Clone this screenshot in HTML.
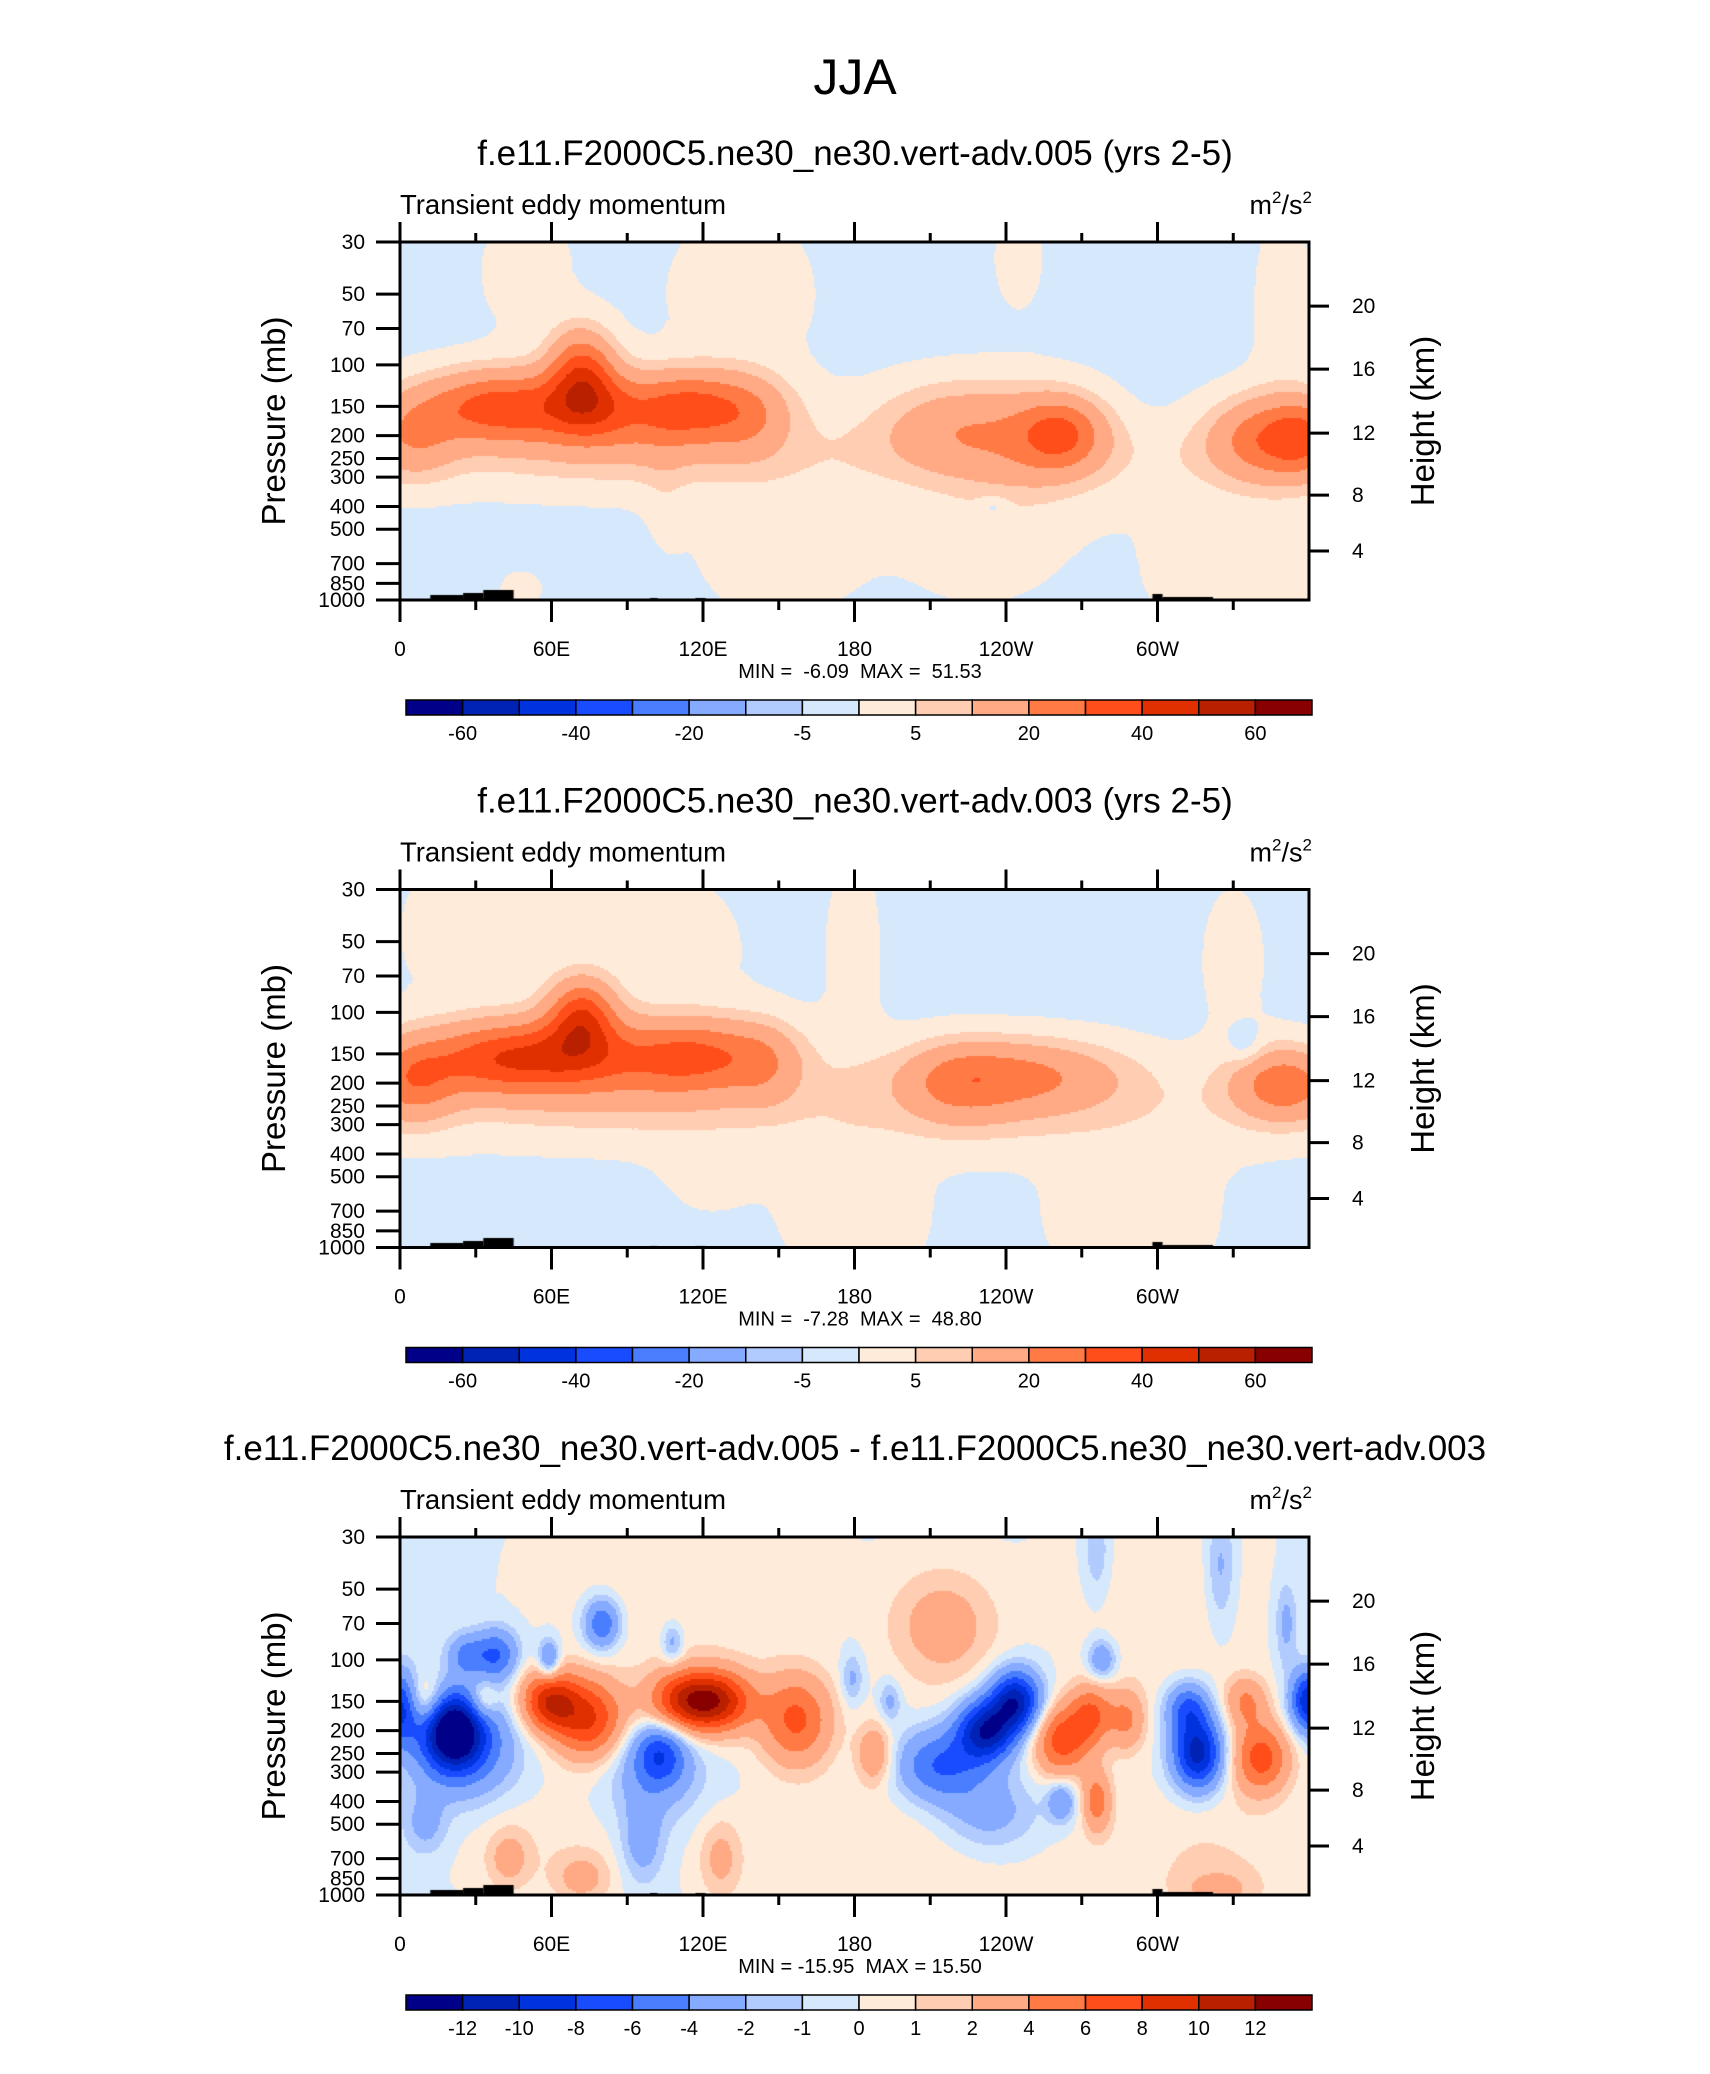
<!DOCTYPE html>
<html><head><meta charset="utf-8"><style>
html,body{margin:0;padding:0;background:#fff;}
#wrap{position:relative;width:1710px;height:2074px;overflow:hidden;font-family:"Liberation Sans",sans-serif;}
canvas{position:absolute;}
svg{position:absolute;left:0;top:0;}
text{white-space:pre;}
</style></head><body>
<div id="wrap">
<canvas id="c0" width="909" height="358" style="left:400px;top:242px"></canvas>
<canvas id="c1" width="909" height="358" style="left:400px;top:889.5px"></canvas>
<canvas id="c2" width="909" height="358" style="left:400px;top:1537px"></canvas>
<svg id="ov" width="1710" height="2074"></svg>
</div>
<script>
// ---- data ----
const lonLabels = ["0","60E","120E","180","120W","60W"];
const pressTicks = [30,50,70,100,150,200,250,300,400,500,700,850,1000];
const heightTicks = [4,8,12,16,20];
const titles = ["f.e11.F2000C5.ne30_ne30.vert-adv.005 (yrs 2-5)","f.e11.F2000C5.ne30_ne30.vert-adv.003 (yrs 2-5)","f.e11.F2000C5.ne30_ne30.vert-adv.005 - f.e11.F2000C5.ne30_ne30.vert-adv.003"];
const minMax = ["MIN =  -6.09  MAX =  51.53","MIN =  -7.28  MAX =  48.80","MIN = -15.95  MAX = 15.50"];
const levelsFull = [-60,-50,-40,-30,-20,-10,-5,0,5,10,20,30,40,50,60];
const levelsDiff = [-12,-10,-8,-6,-4,-2,-1,0,1,2,4,6,8,10,12];
const labelsFull = ["-60","","-40","","-20","","-5","","5","","20","","40","","60"];
const labelsDiff = ["-12","-10","-8","-6","-4","-2","-1","0","1","2","4","6","8","10","12"];
const colors = ["#000088","#0022b5","#0033dd","#1a4cff","#4a7eff","#85aaff","#b2cbff","#d6e8fc","#ffebd9","#ffcdb2","#ffaa85","#ff7a45","#ff4e1a","#e03000","#b82000","#880000"];
const baselines = [-1.5,-1.5,-0.2];
// blobs: lon(deg), pressure(mb), amplitude, lon width(deg), vertical width(log-frac)
const p1Lon = [5,40,72,75,115,90,140,220,262,250,345,358,180,50,135,245,350,150,230,330,48,235,105];
const p1P   = [200,150,105,150,150,190,170,185,195,220,205,200,250,40,50,35,60,600,550,700,900,400,330];
const p1Amp = [16,34,30,20,30,10,8,16,26,8,28,15,4,3,3,3,3,3.5,3,3,2.5,-5,2.5];
const p1SL  = [12,22,9,12,20,40,10,22,12,20,16,8,400,15,25,8,10,25,25,30,8,4,6];
const p1SY  = [.08,.07,.08,.07,.07,.09,.08,.09,.07,.12,.08,.07,.08,.15,.2,.12,.25,.15,.15,.2,.05,.02,.12];
const p2Lon = [5,40,72,70,115,90,145,245,220,350,180,30,100,180,330,335,180,290,120,240];
const p2P   = [190,155,102,145,150,190,165,185,200,200,250,45,55,60,60,140,700,700,500,300];
const p2Amp = [24,34,32,20,28,10,10,22,12,26,4,3,3,2.5,2.5,-6,3,3,2,2];
const p2SL  = [12,20,9,15,22,40,10,28,15,14,400,25,30,10,12,5,25,30,15,30];
const p2SY  = [.08,.07,.07,.07,.07,.09,.08,.07,.08,.07,.09,.2,.2,.3,.2,.04,.2,.2,.1,.06];
const p3Lon = [21,25,0,38,26,10,33,59,75,80,59,103,100,108,112,126,157,179,194,188,215,244,232,214,233,262,274,276,262,278,288,316,312,341,335,360,276,325,351,43,96,127,72,10,324,110,215,300,200,320,60];
const p3P   = [200,230,160,95,95,150,150,150,180,70,100,250,300,85,150,150,180,120,150,250,70,150,200,280,450,220,170,400,400,100,180,250,160,260,150,150,35,40,70,700,600,700,850,500,950,50,80,60,700,700,600];
const p3Amp = [-12,-6,-8,-6,-4,4,3.5,9,8,-6,-5,-6,-3,-3,8,9,6.5,-2.5,-2.5,4,2,-11,-11,-6,-3,7,5.5,5,-4,-4,4,-11,-6,7,4,-10,-2,-2.5,-2.5,2.5,-3,2.5,2.5,-2.5,2,1,1.2,1,1.2,1.2,0.8];
const p3SL  = [8,14,5,6,5,5,4,8,10,5,3,7,14,3,10,10,10,3,3,5,15,7,8,12,14,8,6,4,4,4,5,7,6,8,6,5,4,4,3,6,6,6,8,6,10,40,15,30,40,30,30];
const p3SY  = [.07,.1,.07,.05,.04,.05,.04,.06,.08,.05,.04,.06,.1,.04,.06,.06,.09,.05,.04,.06,.1,.06,.06,.07,.08,.07,.06,.06,.04,.04,.06,.07,.05,.07,.05,.06,.1,.12,.08,.06,.08,.08,.05,.06,.04,.25,.15,.25,.15,.15,.12];
const heightFrac = [.863,.707,.534,.355,.179];

// ---- axes ----
const X0=400, W=909, H=358, tops=[242,889.5,1537];
const LP=Math.log(30), LR=Math.log(1000/30);
function xOf(lon){return lon/360*W;}
function yOf(p){return (Math.log(p)-LP)/LR*H;}
function fieldVal(k,lon,yf){
  const L=[p1Lon,p2Lon,p3Lon][k],P=[p1P,p2P,p3P][k],A=[p1Amp,p2Amp,p3Amp][k],SL=[p1SL,p2SL,p3SL][k],SY=[p1SY,p2SY,p3SY][k];
  let v=baselines[k];
  for(let i=0;i<L.length;i++){
    const dx=(lon-L[i])/SL[i], dy=(yf-(Math.log(P[i])-LP)/LR)/SY[i];
    const e=dx*dx+dy*dy; if(e<12) v+=A[i]*Math.exp(-0.5*e);
  }
  return v;
}
for(let k=0;k<3;k++){
  const cv=document.getElementById('c'+k), ctx=cv.getContext('2d');
  const lev=k<2?levelsFull:levelsDiff;
  const s=2;
  for(let py=0;py<H;py+=s){
    for(let px=0;px<W;px+=s){
      const v=fieldVal(k,(px+1)/W*360,(py+1)/H);
      let idx=0; while(idx<lev.length && v>=lev[idx]) idx++;
      ctx.fillStyle=colors[idx]; ctx.fillRect(px,py,s,s);
    }
  }
  ctx.fillStyle="#000";
  [[12,25,5],[25,33,7],[33,45,10],[99,102,2],[117,121,2],[298,302,6],[302,322,3]].forEach(t=>{
    ctx.fillRect(xOf(t[0]),H-t[2],xOf(t[1])-xOf(t[0]),t[2]);
  });
}
const NS="http://www.w3.org/2000/svg", ov=document.getElementById('ov');
function mk(tag,at,txt){const e=document.createElementNS(NS,tag);for(const a in at)e.setAttribute(a,at[a]);if(txt!==undefined)e.textContent=txt;ov.appendChild(e);return e;}
let t=mk('text',{x:855,y:94,'font-size':50,'text-anchor':'middle'},'JJA');


for(let k=0;k<3;k++){
  const T=tops[k];
  t=mk('text',{x:855,y:T-77,'font-size':35,'text-anchor':'middle'},titles[k]);
  
  
  t=mk('text',{x:400,y:T-28,'font-size':27.5},'Transient eddy momentum');
  
  
  t=mk('text',{x:1312,y:T-28,'font-size':27,'text-anchor':'end'});
  t.innerHTML='m<tspan dy="-11" font-size="17">2</tspan><tspan dy="11">/s</tspan><tspan dy="-11" font-size="17">2</tspan>';
  
  
  let r=mk('rect',{x:X0,y:T,width:W,height:H,fill:'none',stroke:'#000','stroke-width':3});
  
  
  for(let lon=0;lon<360;lon+=30){
    const x=X0+xOf(lon), maj=lon%60==0;
    mk('line',{x1:x,x2:x,y1:T,y2:T-(maj?20:9),stroke:'#000','stroke-width':3});
    mk('line',{x1:x,x2:x,y1:T+H,y2:T+H+(maj?22:10),stroke:'#000','stroke-width':3});
    if(maj){t=mk('text',{x:x,y:T+H+56,'font-size':21,'text-anchor':'middle'},lonLabels[lon/60]);
      
      }
  }
  pressTicks.forEach(p=>{
    const y=T+yOf(p);
    mk('line',{x1:X0,x2:X0-24,y1:y,y2:y,stroke:'#000','stroke-width':3});
    t=mk('text',{x:365,y:y+7,'font-size':21,'text-anchor':'end'},String(p));
    
    
  });
  heightTicks.forEach((h,i)=>{
    const y=T+heightFrac[i]*H;
    mk('line',{x1:X0+W,x2:X0+W+20,y1:y,y2:y,stroke:'#000','stroke-width':3});
    t=mk('text',{x:1352,y:y+7,'font-size':21},String(h));
    
    
  });
  t=mk('text',{x:0,y:0,'font-size':33,'text-anchor':'middle',transform:`translate(285,${T+179}) rotate(-90)`},'Pressure (mb)');
  
  
  t=mk('text',{x:0,y:0,'font-size':33,'text-anchor':'middle',transform:`translate(1434,${T+179}) rotate(-90)`},'Height (km)');
  
  
  t=mk('text',{x:860,y:T+436,'font-size':20,'text-anchor':'middle'},minMax[k]);
  
  
  const cbx=406, cbw=906, bw=cbw/16, cby=T+458;
  for(let i=0;i<16;i++){
    r=mk('rect',{x:cbx+i*bw,y:cby,width:bw,height:15,fill:colors[i],stroke:'#000','stroke-width':1.5});
    
    
  }
  const labs=k<2?labelsFull:labelsDiff;
  labs.forEach((l,i)=>{ if(!l) return;
    t=mk('text',{x:cbx+(i+1)*bw,y:T+498,'font-size':20,'text-anchor':'middle'},l);
    
    
  });
}
</script>
</body></html>
